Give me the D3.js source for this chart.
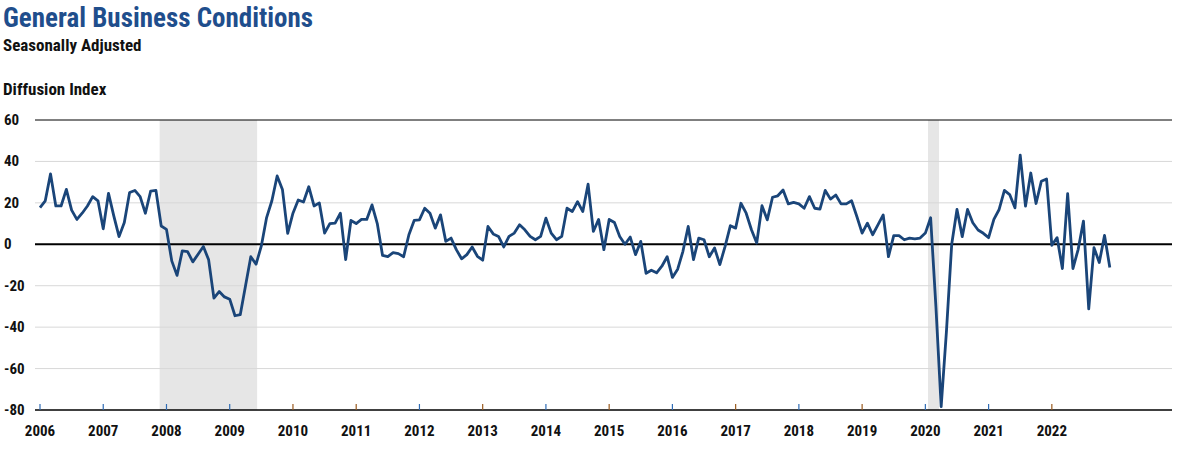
<!DOCTYPE html>
<html><head><meta charset="utf-8">
<script src="https://cdn.jsdelivr.net/npm/d3@7"></script>
<style>body{margin:0;background:#fff}text{font-family:"Liberation Sans Narrow","Roboto Condensed",Roboto,sans-serif}</style>
</head><body><svg id="c" width="1184" height="451"></svg>
<script>
const startYear = 2006;
const yearLabels = d3.range(2006, 2023).map(String);
const yTicks = [60, 40, 20, 0, -20, -40, -60, -80];
const recessions = [[22.7, 41.2], [168.5, 170.6]]; // month index ranges
const values = [
17.7,21,34,18.5,18.5,26.5,16.5,12,15,18.5,23,21,
7.5,24.6,13.7,3.7,10.5,25,26,23,15,25.7,26,8.8,
7.2,-8,-15,-3.2,-3.5,-8.5,-4.8,-1.1,-7.5,-26,-22.8,-25.4,
-26.5,-34.5,-34,-20,-6,-9.6,-0.8,12.9,21,33,26.5,5.3,
15,21.4,20.4,27.8,18.5,20,5.4,10,10.2,15,-7.4,11.5,
10,12,12,19,10,-5.4,-6,-4,-4.5,-6,4.6,11.5,
11.8,17.4,15,7.8,14.2,1.4,3,-2.6,-7,-5,-1.3,-5.8,
-7.7,8.6,5,3.8,-1.3,3.8,5.4,9.4,7,3.8,2.2,3.8,
12.6,5.4,2.2,3.8,17.4,15.8,20.6,15.8,29,6.2,12,-2.6,
12,10.5,3.8,0,3.5,-5,1.4,-14,-12.5,-13.8,-10.6,-6,
-16,-12,-3.4,8.6,-7.4,3,2.2,-6,-1.8,-9.8,-1,9,
7.8,19.8,15,7,0.6,18.6,11.8,22.7,23.4,26.2,19.5,20.2,
19.5,17.4,23,17.4,17,26,21.8,23.8,19.5,19.5,21,13.4,
5.4,10.2,4.6,9.4,14.2,-6,4.2,4.2,2.2,3,2.6,3,
5.4,12.8,-30,-78.4,-42,0,16.8,3.7,16.8,10.4,6.9,5.3,
3.2,12,16.8,26,24,17.6,43,18.4,34.4,19.7,30.4,31.5,
-0.5,3.2,-11.7,24.5,-11.7,-2.4,11.2,-31.2,-1.6,-8.8,4.3,-11.2
];

const svg = d3.select('#c');
const x = d3.scaleLinear().domain([0, 214.8]).range([40, 1172]);
const y = d3.scaleLinear().domain([-80, 60]).range([410, 120]);

svg.append('text').attr('x',3).attr('y',27).attr('fill','#1f4e8c').attr('font-size',27).attr('font-weight','bold').text('General Business Conditions');
svg.append('text').attr('x',3).attr('y',51).attr('fill','#111').attr('font-size',17).attr('font-weight','bold').text('Seasonally Adjusted');
svg.append('text').attr('x',3).attr('y',95).attr('fill','#111').attr('font-size',17).attr('font-weight','bold').text('Diffusion Index');

svg.selectAll('rect.rec').data(recessions).join('rect')
  .attr('x',d=>x(d[0])).attr('width',d=>x(d[1])-x(d[0]))
  .attr('y',y(60)).attr('height',y(-80)-y(60)).attr('fill','#e6e6e6');

svg.selectAll('line.g').data(yTicks).join('line')
  .attr('x1',35).attr('x2',1172).attr('y1',d=>y(d)).attr('y2',d=>y(d))
  .attr('stroke',d=>d===0||d===60||d===-80?'#000':'#d8d8d8')
  .attr('stroke-width',d=>d===0?2:(d===-80?1.5:1));

svg.selectAll('text.yl').data(yTicks).join('text')
  .attr('x',4).attr('y',d=>y(d)+5).attr('font-size',15).attr('font-weight','bold').attr('fill','#111').text(d=>d);

const yearIdx = yearLabels.map((s,i)=>i*12);
svg.selectAll('line.t').data(yearIdx).join('line')
  .attr('x1',d=>x(d)).attr('x2',d=>x(d)).attr('y1',404).attr('y2',410)
  .attr('stroke',(d,i)=>[0,1,2,3,6,8,10,12,14,15].includes(i)?'#2f6cb5':'#9a5a1f').attr('stroke-width',1.2);
svg.selectAll('text.xl').data(yearLabels).join('text')
  .attr('x',(d,i)=>x(i*12)).attr('y',436).attr('text-anchor','middle')
  .attr('font-size',15).attr('font-weight','bold').attr('fill','#111').text(d=>d);

svg.append('path').datum(values)
  .attr('d',d3.line().x((d,i)=>x(i)).y(d=>y(d)))
  .attr('fill','none').attr('stroke','#1a4579').attr('stroke-width',2.8).attr('stroke-linejoin','round');
</script></body></html>
